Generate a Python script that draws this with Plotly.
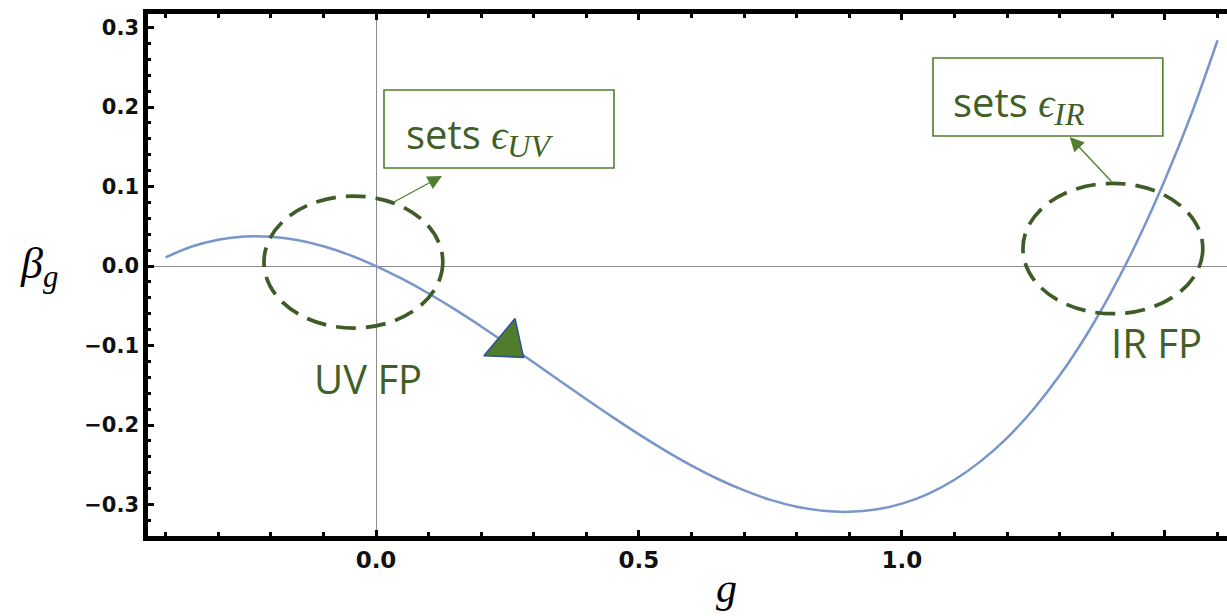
import plotly.graph_objects as go

# ---- data ----
g_vals = [-0.40, -0.35, -0.30, -0.25, -0.20, -0.15, -0.10, -0.05, 0.00,
          0.05, 0.10, 0.15, 0.20, 0.25, 0.30, 0.35, 0.40, 0.45, 0.50,
          0.55, 0.60, 0.65, 0.70, 0.75, 0.80, 0.85, 0.90, 0.95, 1.00,
          1.05, 1.10, 1.15, 1.20, 1.25, 1.30, 1.35, 1.40, 1.45, 1.50,
          1.55, 1.60]
beta_vals = [0.0108, 0.0245, 0.0331, 0.0371, 0.0368, 0.0326, 0.0248, 0.0138, 0.0000,
             -0.0163, -0.0346, -0.0546, -0.0760, -0.0984, -0.1214, -0.1446, -0.1676, -0.1901, -0.2118,
             -0.2322, -0.2511, -0.2679, -0.2823, -0.2941, -0.3027, -0.3079, -0.3092, -0.3064, -0.2989,
             -0.2865, -0.2688, -0.2454, -0.2161, -0.1801, -0.1375, -0.0877, -0.0303, 0.0349, 0.1085,
             0.1906, 0.2840]

flow_arrow_g = [0.25]
flow_arrow_beta = [-0.098]

x_tick_vals = [0.0, 0.5, 1.0, 1.5]
x_tick_text = ["0.0", "0.5", "1.0", ""]
y_tick_vals = [-0.3, -0.2, -0.1, 0.0, 0.1, 0.2, 0.3]
y_tick_text = ["\u22120.3", "\u22120.2", "\u22120.1", "0.0", "0.1", "0.2", "0.3"]

GREEN_DARK = "#3d5c27"
GREEN_TEXT = "#3f6127"
GREEN_LINE = "#4f7f2f"

fig = go.Figure()
fig.add_trace(go.Scatter(
    x=g_vals, y=beta_vals, mode="lines",
    line=dict(color="#7896c9", width=2.5, shape="spline", smoothing=1.0),
    hoverinfo="skip", showlegend=False))
fig.add_trace(go.Scatter(
    x=flow_arrow_g, y=flow_arrow_beta, mode="markers",
    marker=dict(symbol="triangle-right", angle=40, size=42, color="#4f7d2b",
                line=dict(color="#2e4d9c", width=1.5)),
    hoverinfo="skip", showlegend=False))

shapes = [
    dict(type="circle", xref="x", yref="y", x0=-0.213, x1=0.127, y0=-0.078, y1=0.088,
         line=dict(color=GREEN_DARK, width=3.7, dash="20px,10px")),
    dict(type="circle", xref="x", yref="y", x0=1.230, x1=1.572, y0=-0.060, y1=0.104,
         line=dict(color=GREEN_DARK, width=3.7, dash="20px,10px")),
    dict(type="rect", xref="x", yref="y", x0=0.0152, x1=0.4525, y0=0.1233, y1=0.2214,
         line=dict(color=GREEN_LINE, width=1.6), fillcolor="rgba(0,0,0,0)"),
    dict(type="rect", xref="x", yref="y", x0=1.059, x1=1.496, y0=0.1635, y1=0.2616,
         line=dict(color=GREEN_LINE, width=1.6), fillcolor="rgba(0,0,0,0)"),
]

txt_font = dict(family="Open Sans", size=40, color=GREEN_TEXT)
sub_uv = ('sets <span style="font-family:Liberation Serif"><i>\u03f5</i>'
          '<sub><span style="font-size:32px"><i>UV</i></span></sub></span>')
sub_ir = ('sets <span style="font-family:Liberation Serif"><i>\u03f5</i>'
          '<sub><span style="font-size:32px"><i>IR</i></span></sub></span>')
annotations = [
    dict(x=0.053, y=0.165, xref="x", yref="y", xanchor="left", yanchor="middle",
         text=sub_uv, showarrow=False, font=txt_font),
    dict(x=1.093, y=0.205, xref="x", yref="y", xanchor="left", yanchor="middle",
         text=sub_ir, showarrow=False, font=txt_font),
    dict(x=-0.0152, y=-0.141, xref="x", yref="y", xanchor="center", yanchor="middle",
         text="UV FP", showarrow=False, font=txt_font),
    dict(x=1.483, y=-0.0956, xref="x", yref="y", xanchor="center", yanchor="middle",
         text="IR FP", showarrow=False, font=txt_font),
    dict(x=0.1255, y=0.1132, ax=0.0304, ay=0.0792, xref="x", yref="y", axref="x", ayref="y",
         text="", showarrow=True, arrowhead=2, arrowsize=2.2, arrowwidth=1.3, arrowcolor=GREEN_LINE),
    dict(x=1.319, y=0.1623, ax=1.401, ay=0.1044, xref="x", yref="y", axref="x", ayref="y",
         text="", showarrow=True, arrowhead=2, arrowsize=2.2, arrowwidth=1.3, arrowcolor=GREEN_LINE),
    dict(x=-0.101, y=0.0, xref="paper", yref="y", xanchor="center", yanchor="middle",
         text="<i>\u03b2</i><sub><i>g</i></sub>", showarrow=False,
         font=dict(family="Liberation Serif", size=44, color="black")),
    dict(x=0.667, y=-0.100, xref="x", yref="paper", xanchor="center", yanchor="middle",
         text="<i>g</i>", showarrow=False,
         font=dict(family="Liberation Serif", size=42, color="black")),
]

fig.update_layout(
    width=1227, height=616,
    margin=dict(l=148, r=0, t=14, b=80),
    paper_bgcolor="white", plot_bgcolor="white",
    showlegend=False,
    shapes=shapes, annotations=annotations,
    xaxis=dict(range=[-0.4335, 1.618], tickmode="array", tickvals=x_tick_vals, ticktext=x_tick_text,
               ticks="inside", ticklen=6, tickwidth=3, tickcolor="black",
               minor=dict(tickmode="linear", tick0=0, dtick=0.1, ticks="inside", ticklen=4,
                          tickwidth=3, tickcolor="black", showgrid=False),
               showline=True, linewidth=4.5, linecolor="black", mirror="ticks",
               showgrid=False, zeroline=True, zerolinecolor="#8c8c8c", zerolinewidth=1.3,
               tickfont=dict(family="DejaVu Sans", size=23, color="#111111", weight="bold")),
    yaxis=dict(range=[-0.3396, 0.3170], tickmode="array", tickvals=y_tick_vals, ticktext=y_tick_text,
               ticks="inside", ticklen=6, tickwidth=3, tickcolor="black",
               minor=dict(tickmode="linear", tick0=0, dtick=0.02, ticks="inside", ticklen=3.5,
                          tickwidth=2.5, tickcolor="black", showgrid=False),
               showline=True, linewidth=4.5, linecolor="black", mirror=False,
               showgrid=False, zeroline=True, zerolinecolor="#8c8c8c", zerolinewidth=1.3,
               tickfont=dict(family="DejaVu Sans", size=21, color="#111111", weight="bold")),
)

fig.write_html("out.html", config={"displayModeBar": False},
               post_script="document.body.style.margin='0px';")
